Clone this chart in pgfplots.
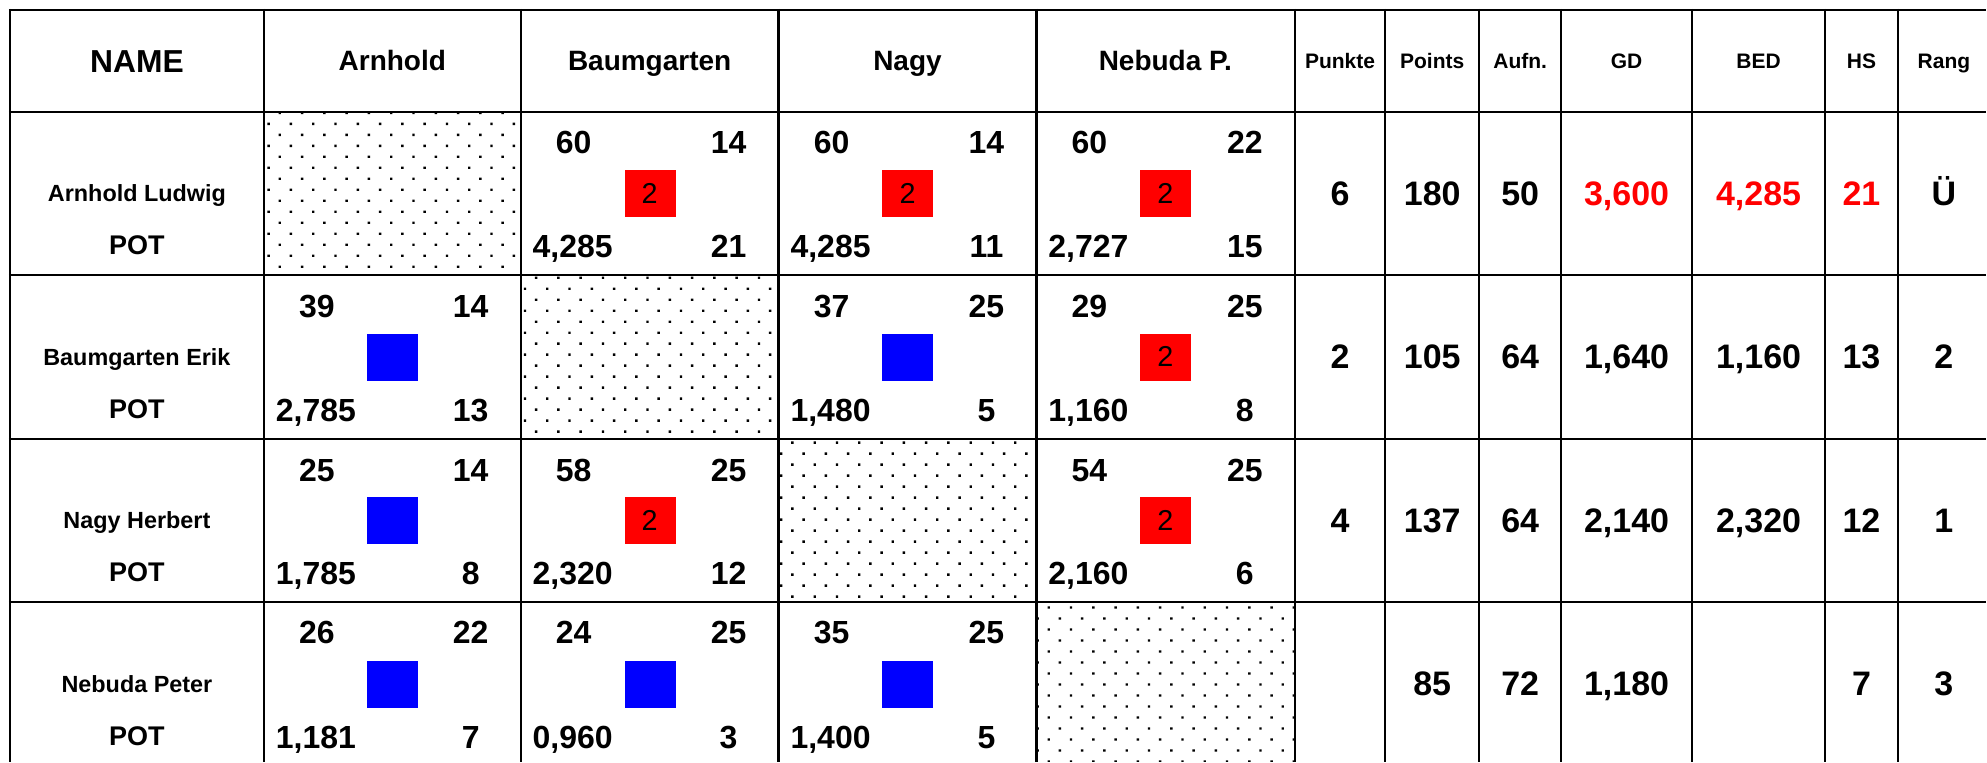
\documentclass[border=0pt]{standalone}
\usepackage{pgfplots}
\pgfplotsset{compat=1.18}
\usepackage{pgfplotstable}
\usepackage{fontspec}
\setmainfont{Liberation Sans}
\usetikzlibrary{patterns}

\pgfdeclarepatternformonly{sparsedots}{\pgfqpoint{-1pt}{-1pt}}{\pgfqpoint{12pt}{12pt}}{\pgfqpoint{11.15pt}{11pt}}{%
  \pgfpathrectangle{\pgfqpoint{0pt}{0pt}}{\pgfqpoint{1.2pt}{1.2pt}}%
  \pgfpathrectangle{\pgfqpoint{5.575pt}{5.5pt}}{\pgfqpoint{1.2pt}{1.2pt}}%
  \pgfusepath{fill}%
}
\newcommand{\fs}[1]{\fontsize{#1}{#1}\selectfont}

\begin{document}
\begin{tikzpicture}
\begin{axis}[
  scale only axis, width=993.5pt, height=381pt,
  xmin=0, xmax=1987, ymin=0, ymax=762, y dir=reverse,
  hide axis, clip=false,
  lbl/.style={only marks, mark=*, mark size=0pt, mark options={draw=none, fill=none},
    point meta=explicit symbolic, nodes near coords,
    every node near coord/.append style={inner sep=0pt, outer sep=0pt, anchor=base, text=black, font=#1}},
]
% bounding box
\path (axis cs:0,0) rectangle (axis cs:1987,762);

% dotted diagonal cells
\fill[pattern=sparsedots] (axis cs:264,111.7) rectangle (axis cs:521,275);
\fill[pattern=sparsedots] (axis cs:521,275) rectangle (axis cs:779,439);
\fill[pattern=sparsedots] (axis cs:779,439) rectangle (axis cs:1037,602);
\fill[pattern=sparsedots] (axis cs:1037,602) rectangle (axis cs:1295.5,762);

% grid
\draw[line width=1.1pt]
  (axis cs:8.9,10) -- (axis cs:1987,10)
  (axis cs:8.9,111.7) -- (axis cs:1987,111.7)
  (axis cs:8.9,275) -- (axis cs:1987,275)
  (axis cs:8.9,439) -- (axis cs:1987,439)
  (axis cs:8.9,602) -- (axis cs:1987,602)
  (axis cs:10,8.9) -- (axis cs:10,762)
  (axis cs:264,8.9) -- (axis cs:264,762)
  (axis cs:521,8.9) -- (axis cs:521,762)
  (axis cs:779,8.9) -- (axis cs:779,762)
  (axis cs:1037,8.9) -- (axis cs:1037,762)
  (axis cs:1295.5,8.9) -- (axis cs:1295.5,762)
  (axis cs:1386,8.9) -- (axis cs:1386,762)
  (axis cs:1480,8.9) -- (axis cs:1480,762)
  (axis cs:1562,8.9) -- (axis cs:1562,762)
  (axis cs:1693,8.9) -- (axis cs:1693,762)
  (axis cs:1826,8.9) -- (axis cs:1826,762)
  (axis cs:1899,8.9) -- (axis cs:1899,762);

% red boxes (won) with "2"
\addplot[red, only marks, mark=square*, mark size=12.5pt,
  mark options={solid, draw=red, fill=red, line width=0.1pt, yscale=0.92},
  nodes near coords={2},
  every node near coord/.append style={anchor=center, inner sep=0pt, text=black, font=\fs{14.4}}]
  coordinates {(650,193.4) (908,193.4) (1166,193.4) (1166,357) (650,520.5) (1166,520.5)};

% blue boxes (lost)
\addplot[blue, only marks, mark=square*, mark size=12.5pt,
  mark options={solid, draw=blue, fill=blue, line width=0.1pt, yscale=0.92}]
  coordinates {(392.5,357) (908,357) (392.5,520.5) (392.5,684) (650,684) (908,684)};

% header NAME
\addplot[lbl={\fs{15.9}\bfseries}] table[meta=t] {
x y t
137 72.7 NAME
};
% player headers
\addplot[lbl={\fs{14}\bfseries}] table[meta=t] {
x y t
392.5 70.5 Arnhold
650 70.5 Baumgarten
908 70.5 Nagy
1166 70.5 {Nebuda P.}
};
% small headers
\addplot[lbl={\fs{10.5}\bfseries}] table[meta=t] {
x y t
1340.75 68.3 Punkte
1433 68.3 Points
1521 68.3 Aufn.
1627.5 68.3 GD
1759.5 68.3 BED
1862.5 68.3 HS
1945 68.3 Rang
};
% player names
\addplot[lbl={\fs{11.7}\bfseries}] table[meta=t] {
x y t
137 202 {Arnhold Ludwig}
137 366 {Baumgarten Erik}
137 529 {Nagy Herbert}
137 693 {Nebuda Peter}
};
% POT
\addplot[lbl={\fs{13.5}\bfseries}] table[meta=t] {
x y t
137 255 POT
137 419 POT
137 582 POT
137 746 POT
};
% cell numbers, centred (top-left, top-right, bottom-right)
\addplot[lbl={\fs{16}\bfseries}] table[meta=t] {
x y t
574 154 60
832 154 60
1090 154 60
317 317.3 39
832 317.3 37
1090 317.3 29
317 481.3 25
574 481.3 58
1090 481.3 54
317 644.3 26
574 644.3 24
832 644.3 35
729 154 14
987 154 14
1245.5 154 22
471 317.3 14
987 317.3 25
1245.5 317.3 25
471 481.3 14
729 481.3 25
1245.5 481.3 25
471 644.3 22
729 644.3 25
987 644.3 25
729 258 21
987 258 11
1245.5 258 15
471 422 13
987 422 5
1245.5 422 8
471 585 8
729 585 12
1245.5 585 6
471 749 7
729 749 3
987 749 5
};
% cell numbers, left aligned (bottom-left)
\addplot[lbl={\fs{16}\bfseries}, every node near coord/.append style={anchor=base west}] table[meta=t] {
x y t
533 258 4,285
791 258 4,285
1049 258 2,727
276 422 2,785
791 422 1,480
1049 422 1,160
276 585 1,785
533 585 2,320
1049 585 2,160
276 749 1,181
533 749 0,960
791 749 1,400
};
% summary columns, black
\addplot[lbl={\fs{17}\bfseries}] table[meta=t] {
x y t
1340.75 205.6 6
1433 205.6 180
1521 205.6 50
1945 205.6 Ü
1340.75 369.2 2
1433 369.2 105
1521 369.2 64
1627.5 369.2 1,640
1759.5 369.2 1,160
1862.5 369.2 13
1945 369.2 2
1340.75 532.7 4
1433 532.7 137
1521 532.7 64
1627.5 532.7 2,140
1759.5 532.7 2,320
1862.5 532.7 12
1945 532.7 1
1433 696.2 85
1521 696.2 72
1627.5 696.2 1,180
1862.5 696.2 7
1945 696.2 3
};
% summary columns, red (best values)
\addplot[lbl={\fs{17}\bfseries}, every node near coord/.append style={text=red}] table[meta=t] {
x y t
1627.5 205.6 3,600
1759.5 205.6 4,285
1862.5 205.6 21
};
\end{axis}
\end{tikzpicture}
\end{document}
